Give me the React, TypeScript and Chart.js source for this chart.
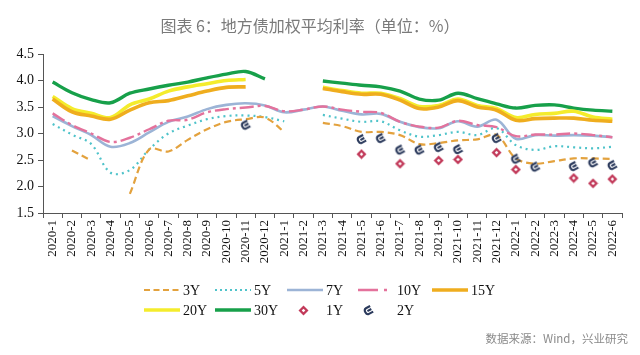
import React, { useEffect, useRef } from 'react';
import { Chart, registerables } from 'chart.js';

Chart.register(...registerables);

const categories = [
  '2020-1', '2020-2', '2020-3', '2020-4', '2020-5', '2020-6', '2020-7', '2020-8', '2020-9', '2020-10', '2020-11', '2020-12',
  '2021-1', '2021-2', '2021-3', '2021-4', '2021-5', '2021-6', '2021-7', '2021-8', '2021-9', '2021-10', '2021-11', '2021-12',
  '2022-1', '2022-2', '2022-3', '2022-4', '2022-5', '2022-6',
];

const y3 = [null, 2.68, 2.49, null, 1.86, 2.70, 2.66, 2.88, 3.08, 3.22, 3.27, 3.30,
  3.03, null, 3.20, 3.14, 3.03, 3.03, 2.97, 2.80, 2.82, 2.87, 2.89, 2.97,
  2.53, 2.43, 2.48, 2.53, 2.53, 2.52];
const y5 = [3.18, 2.98, 2.80, 2.26, 2.31, 2.70, 3.00, 3.15, 3.27, 3.33, 3.34, 3.31,
  3.23, null, 3.35, 3.28, 3.22, 3.23, 3.06, 2.94, 2.97, 3.03, 2.97, 3.10,
  2.78, 2.69, 2.76, 2.74, 2.72, 2.75];
const y7 = [3.33, 3.14, 2.97, 2.75, 2.82, 3.02, 3.22, 3.32, 3.46, 3.54, 3.57, 3.53,
  3.40, 3.45, 3.51, 3.43, 3.36, 3.37, 3.22, 3.12, 3.10, 3.23, 3.13, 3.26,
  2.90, 2.97, 2.96, 2.97, 2.96, 2.93];
const y10 = [3.38, 3.16, 3.00, 2.84, 2.92, 3.08, 3.24, 3.26, 3.40, 3.46, 3.49, 3.52,
  3.42, 3.45, 3.51, 3.45, 3.41, 3.39, 3.22, 3.13, 3.11, 3.24, 3.16, 3.12,
  2.95, 2.98, 2.98, 3.00, 2.97, 2.93];
const y15 = [3.65, 3.41, 3.33, 3.27, 3.44, 3.58, 3.62, 3.71, 3.80, 3.87, 3.88, null,
  null, null, 3.85, 3.79, 3.74, 3.74, 3.63, 3.47, 3.50, 3.62, 3.50, 3.44,
  3.25, 3.28, 3.29, 3.29, 3.25, 3.23];
const y20 = [3.70, 3.47, 3.38, 3.30, 3.54, 3.65, 3.80, 3.88, 3.94, 4.00, 4.02, null,
  null, null, 3.87, 3.81, 3.76, 3.76, 3.66, 3.51, 3.53, 3.65, 3.53, 3.47,
  3.30, 3.36, 3.38, 3.42, 3.31, 3.27];
const y30 = [3.97, 3.77, 3.64, 3.58, 3.76, 3.84, 3.91, 3.97, 4.05, 4.12, 4.17, 4.03,
  null, null, 3.99, 3.95, 3.91, 3.88, 3.80, 3.65, 3.63, 3.76, 3.66, 3.56,
  3.48, 3.53, 3.54, 3.48, 3.44, 3.42];
const y1 = [null, null, null, null, null, null, null, null, null, null, null, null,
  null, null, null, null, 2.61, null, 2.43, null, 2.49, 2.51, null, 2.64,
  2.32, null, null, 2.16, 2.06, 2.14];
const y2 = [null, null, null, null, null, null, null, null, null, null, 3.16, null,
  null, null, null, null, 2.89, 2.91, 2.69, 2.69, 2.74, 2.70, null, 2.91,
  2.52, 2.37, null, 2.38, 2.45, 2.40];

const yTicks = [1.5, 2.0, 2.5, 3.0, 3.5, 4.0, 4.5];

const TITLE = '图表 6：地方债加权平均利率（单位：%）';
const SOURCE = '数据来源：Wind，兴业研究';

function makeGlyph(color: string, size: number) {
  const c = document.createElement('canvas');
  c.width = size;
  c.height = size;
  const g = c.getContext('2d')!;
  g.translate(size / 2, size / 2);
  g.rotate(-0.5);
  g.strokeStyle = color;
  g.lineWidth = 2.1;
  g.lineCap = 'butt';
  g.lineJoin = 'round';
  g.beginPath();
  g.moveTo(3.6, -3.2);
  g.lineTo(-1.2, -3.2);
  g.quadraticCurveTo(-3.6, -3.2, -3.6, 0);
  g.quadraticCurveTo(-3.6, 3.2, -1.2, 3.2);
  g.lineTo(3.6, 3.2);
  g.moveTo(-1.2, 0);
  g.lineTo(3.2, 0);
  g.stroke();
  return c;
}

function makeDiamond(color: string, size: number) {
  const c = document.createElement('canvas');
  c.width = size;
  c.height = size;
  const g = c.getContext('2d')!;
  const h = size / 2;
  g.fillStyle = color;
  g.beginPath();
  g.moveTo(h, 0.5);
  g.lineTo(size - 0.5, h);
  g.lineTo(h, size - 0.5);
  g.lineTo(0.5, h);
  g.closePath();
  g.fill();
  g.fillStyle = '#ffffff';
  g.beginPath();
  g.moveTo(h, h - 1.8);
  g.lineTo(h + 1.8, h);
  g.lineTo(h, h + 1.8);
  g.lineTo(h - 1.8, h);
  g.closePath();
  g.fill();
  return c;
}

const serif = "'Liberation Serif', 'Times New Roman', serif";
const cjk = "'Noto Sans CJK SC', sans-serif";

export default function App() {
  const ref = useRef<HTMLCanvasElement | null>(null);

  useEffect(() => {
    if (!ref.current) return;
    const glyph = makeGlyph('#2b3a5c', 13);
    const diamond = makeDiamond('#c23a5a', 11);

    const lineDs = (label: string, data: (number | null)[], color: string, width: number, dash: number[], order: number, legendDash?: number[]) => ({
      label,
      data,
      borderColor: color,
      backgroundColor: color,
      borderWidth: width,
      borderDash: dash,
      legendDash: legendDash || dash,
      pointRadius: 0,
      tension: 0.35,
      fill: false,
      spanGaps: false,
      order,
    });

    const legendPlugin = {
      id: 'customDecor',
      afterDraw(chart: any) {
        const ctx = chart.ctx as CanvasRenderingContext2D;
        ctx.save();
        ctx.font = `16px ${cjk}`;
        ctx.fillStyle = '#7a7a7a';
        ctx.textAlign = 'center';
        ctx.textBaseline = 'middle';
        ctx.fillText(TITLE, 310, 26);
        ctx.font = `11.5px ${cjk}`;
        ctx.fillStyle = '#8a8a8a';
        ctx.textAlign = 'right';
        ctx.fillText(SOURCE, 628, 339);
        const cols = [144, 215, 287, 358, 432];
        const rows = [290, 310];
        const dss = chart.data.datasets;
        const slots = [
          [0, 0, 0], [1, 1, 0], [2, 2, 0], [3, 3, 0], [4, 4, 0],
          [5, 0, 1], [6, 1, 1], [7, 2, 1], [8, 3, 1],
        ];
        ctx.font = `14px ${serif}`;
        slots.forEach(([di, ci, ri]) => {
          const ds = dss[di];
          const sx = cols[ci];
          const y = rows[ri];
          if (ds.showLine === false) {
            const img = ds.pointStyle as HTMLCanvasElement;
            const cx = sx + (di === 7 ? 16 : 10);
            ctx.drawImage(img, Math.round(cx - img.width / 2), Math.round(y - img.height / 2));
          } else {
            ctx.save();
            ctx.strokeStyle = ds.borderColor;
            ctx.lineWidth = Math.min(ds.borderWidth, 3.5);
            ctx.setLineDash(ds.legendDash || []);
            ctx.beginPath();
            ctx.moveTo(sx, y);
            ctx.lineTo(sx + 36, y);
            ctx.stroke();
            ctx.restore();
          }
          ctx.fillStyle = '#111111';
          ctx.textAlign = 'left';
          ctx.textBaseline = 'middle';
          ctx.fillText(ds.label, sx + 39, y + 1);
        });
        ctx.restore();
      },
    };

    const chart = new Chart(ref.current, {
      type: 'line',
      data: {
        labels: categories,
        datasets: [
          lineDs('3Y', y3, '#e3a23e', 2.2, [7, 4], 1, [6, 3.5]),
          lineDs('5Y', y5, '#4fc3ca', 2.2, [2, 4], 2, [2, 3]),
          lineDs('7Y', y7, '#9cb4d6', 2.6, [], 4),
          lineDs('10Y', y10, '#e4729c', 2.4, [14, 4, 3, 4], 3, [20, 6, 3, 20]),
          lineDs('15Y', y15, '#efad1e', 3.6, [], 5),
          lineDs('20Y', y20, '#f4ec2c', 3.6, [], 6),
          lineDs('30Y', y30, '#17a04a', 3.4, [], 7),
          {
            label: '1Y',
            data: y1,
            showLine: false,
            pointStyle: diamond,
            pointRadius: 5,
            borderColor: '#c23a5a',
            backgroundColor: '#c23a5a',
            order: 0,
          },
          {
            label: '2Y',
            data: y2,
            showLine: false,
            pointStyle: glyph,
            pointRadius: 6,
            borderColor: '#2b3a5c',
            backgroundColor: '#2b3a5c',
            order: 0,
          },
        ] as any,
      },
      options: {
        responsive: false,
        animation: false,
        devicePixelRatio: 1,
        events: [],
        layout: { padding: { left: 0, right: 18, top: 54, bottom: 84 } },
        plugins: {
          legend: { display: false },
          tooltip: { enabled: false },
          title: { display: false },
        },
        scales: {
          x: {
            type: 'category',
            offset: true,
            grid: { offset: true, drawOnChartArea: false, drawTicks: true, tickLength: 5, color: '#555555' },
            border: { display: true, color: '#555555', width: 1 },
            ticks: {
              autoSkip: false,
              maxRotation: 90,
              minRotation: 90,
              padding: 2,
              color: '#111111',
              font: { family: serif, size: 13 },
            },
            afterFit: (s: any) => { s.height = 58; },
          },
          y: {
            min: 1.5,
            max: 4.5,
            afterBuildTicks: (s: any) => { s.ticks = yTicks.map((v) => ({ value: v })); },
            ticks: {
              callback: (v: any) => Number(v).toFixed(1),
              padding: 4,
              color: '#111111',
              font: { family: serif, size: 14 },
            },
            grid: { drawOnChartArea: false, drawTicks: true, tickLength: 5, color: '#555555' },
            border: { display: true, color: '#555555', width: 1 },
            afterFit: (s: any) => { s.width = 43; },
          },
        },
      } as any,
      plugins: [legendPlugin],
    });

    return () => chart.destroy();
  }, []);

  return (
    <div style={{ position: 'fixed', left: 0, top: 0, width: 640, height: 355, background: '#ffffff' }}>
      <canvas ref={ref} width={640} height={355} />
    </div>
  );
}
